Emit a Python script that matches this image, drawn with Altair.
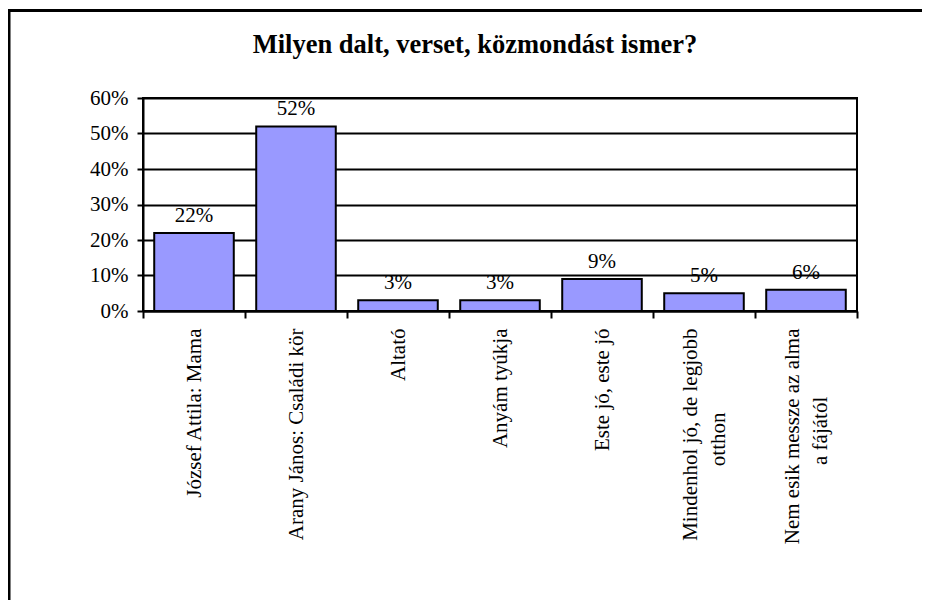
import altair as alt
import pandas as pd

# ---- data ----
title_text = "Milyen dalt, verset, közmondást ismer?"
line1 = ["József Attila: Mama", "Arany János: Családi kör", "Altató", "Anyám tyúkja",
         "Este jó, este jó", "Mindenhol jó, de legjobb", "Nem esik messze az alma"]
line2 = ["", "", "", "", "", "otthon", "a fájától"]
values = [0.22, 0.52, 0.03, 0.03, 0.09, 0.05, 0.06]
y_ticks = [0, 0.1, 0.2, 0.3, 0.4, 0.5, 0.6]

NBSP = "\u00a0"
WJ = "\u2060"  # zero-width, not trimmed: keeps padding / blank lines alive


def make_label(a, b):
    # labels are drawn as half-spaced line arrays so that one- and two-line labels
    # are both centred on their band: [blank, a] or [a, blank, b]
    if not b:
        return WJ + "|" + a
    pad = int(round((len(a) - len(b)) * 0.9))
    return a + "|" + WJ + "|" + b + NBSP * pad + WJ


labels = [make_label(a, b) for a, b in zip(line1, line2)]
df = pd.DataFrame({"label": labels, "value": values})

FONT = "Liberation Serif"
FS = 21

x_enc = alt.X(
    "label:N",
    sort=None,
    scale=alt.Scale(paddingInner=0, paddingOuter=0),
    axis=alt.Axis(
        title=None,
        labelAngle=270,
        labelAlign="right",
        labelBaseline="middle",
        labelExpr="split(datum.label, '|')",
        labelFont=FONT,
        labelFontSize=FS,
        labelLineHeight=14,
        labelOffset=-14,
        labelColor="black",
        labelPadding=10,
        labelLimit=500,
        labelOverlap=False,
        tickBand="extent",
        tickSize=7,
        tickWidth=2,
        tickColor="black",
        domainColor="black",
        domainWidth=2,
    ),
)

y_enc = alt.Y(
    "value:Q",
    scale=alt.Scale(domain=[0, 0.6], nice=False),
    axis=alt.Axis(
        title=None,
        values=y_ticks,
        tickCount=7,
        format=".0%",
        grid=True,
        gridColor="black",
        gridWidth=2,
        gridOpacity=1,
        tickSize=6,
        tickWidth=2,
        tickColor="black",
        domainColor="black",
        domainWidth=2,
        labelFont=FONT,
        labelFontSize=FS,
        labelColor="black",
        labelPadding=9,
        labelOverlap=False,
    ),
)

base = alt.Chart(df).encode(x=x_enc, y=y_enc)

bars = base.mark_bar(
    color="#9999FF", stroke="black", strokeWidth=2, width={"band": 0.78}
)

texts = base.mark_text(
    font=FONT, fontSize=FS, color="black", baseline="alphabetic", dy=-11
).encode(text=alt.Text("value:Q", format=".0%"))

one = pd.DataFrame({"title": [title_text]})
frame_left = alt.Chart(one).mark_rule(color="black", strokeWidth=3).encode(
    x=alt.value(-134), y=alt.value(-88), y2=alt.value(600)
)
frame_top = alt.Chart(one).mark_rule(color="black", strokeWidth=3).encode(
    x=alt.value(-135.5), x2=alt.value(900), y=alt.value(-87.5)
)
title = alt.Chart(one).mark_text(
    font=FONT, fontSize=26.5, fontWeight="bold", color="black", align="center", baseline="alphabetic"
).encode(text="title:N", x=alt.value(332), y=alt.value(-45))

chart = (
    alt.layer(bars, texts, frame_left, frame_top, title)
    .properties(
        width=714,
        height=213,
        padding={"left": 135, "top": 90, "right": 65, "bottom": 289},
        autosize=alt.AutoSizeParams(type="none"),
        background="white",
    )
    .configure_view(stroke="black", strokeWidth=2)
)

chart.save("out.html", embed_options={"renderer": "svg", "actions": False})
